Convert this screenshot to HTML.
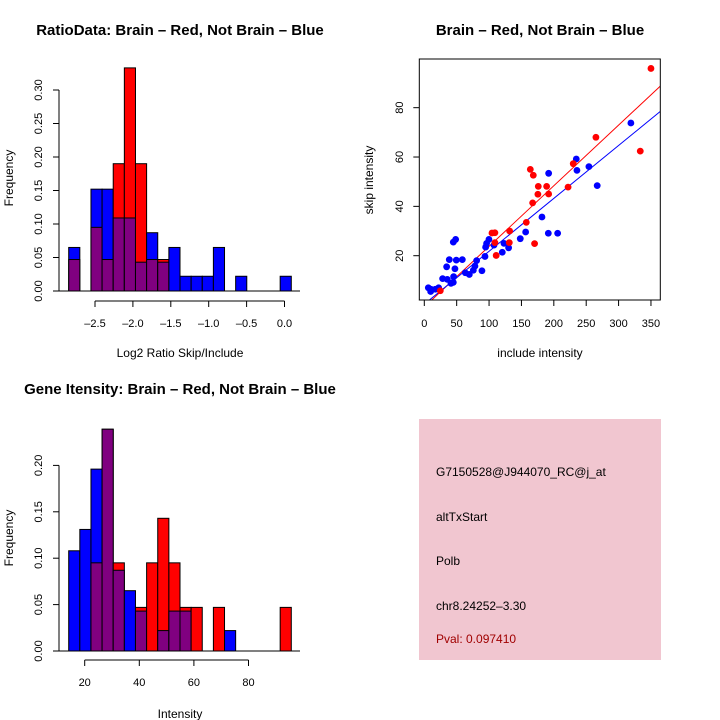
<!DOCTYPE html>
<html><head><meta charset="utf-8"><style>
body{margin:0;background:#fff}
svg{display:block;font-family:"Liberation Sans",Arial,sans-serif}
</style></head><body>
<svg id="s" width="720" height="720" xmlns="http://www.w3.org/2000/svg">
<text x="180" y="35" font-size="15" font-weight="bold" text-anchor="middle">RatioData: Brain – Red, Not Brain – Blue</text>
<text x="540" y="35" font-size="15" font-weight="bold" text-anchor="middle">Brain – Red, Not Brain – Blue</text>
<text x="180" y="394" font-size="15" font-weight="bold" text-anchor="middle">Gene Itensity: Brain – Red, Not Brain – Blue</text>
<text x="180" y="357" font-size="12" text-anchor="middle">Log2 Ratio Skip/Include</text>
<text x="180" y="718" font-size="12" text-anchor="middle">Intensity</text>
<text transform="translate(13,178) rotate(-90)" font-size="12" text-anchor="middle">Frequency</text>
<text transform="translate(13,538) rotate(-90)" font-size="12" text-anchor="middle">Frequency</text>
<text x="540" y="357" font-size="12" text-anchor="middle">include intensity</text>
<text transform="translate(373,180) rotate(-90)" font-size="12" text-anchor="middle">skip intensity</text>
<g>
<rect x="419" y="419" width="242" height="241" fill="#f1c6d0"/>
<text x="436" y="476" font-size="12">G7150528@J944070_RC@j_at</text>
<text x="436" y="521" font-size="12">altTxStart</text>
<text x="436" y="565" font-size="12">Polb</text>
<text x="436" y="610" font-size="12">chr8.24252–3.30</text>
<text x="436" y="643" font-size="12" fill="#a00000">Pval: 0.097410</text>
</g>
</svg>
<script>
// ratio histogram data
const ratioRed=[0.047,0,0.095,0.047,0.19,0.333,0.19,0.047,0.047,0,0,0,0,0,0,0,0,0,0,0];
const ratioBlue=[0.065,0,0.152,0.152,0.109,0.109,0.043,0.087,0.043,0.065,0.022,0.022,0.022,0.065,0,0.022,0,0,0,0.022];
const ratioXTicks=[-2.5,-2.0,-1.5,-1.0,-0.5,0.0];
const ratioYTicks=[0,0.05,0.10,0.15,0.20,0.25,0.30];
// intensity histogram data
const intRed=[0,0,0.095,0.239,0.095,0,0.047,0.095,0.143,0.095,0.047,0.047,0,0.047,0,0,0,0,0,0.047];
const intBlue=[0.108,0.131,0.196,0.239,0.087,0.065,0.043,0,0.022,0.043,0.043,0,0,0,0.022,0,0,0,0,0];
const intXTicks=[20,40,60,80];
const intYTicks=[0,0.05,0.10,0.15,0.20];
// scatter data
const redX=[350,333.5,265,230,222,163.7,168.3,176,175.4,188.9,192,167.3,157.5,170.3,131.8,131.2,104.5,109,109,111,24.7];
const redY=[95.9,62.4,68,57.3,47.8,55,52.6,48.1,44.9,48.1,45,41.4,33.5,24.9,30,25.3,29.2,29.3,25.3,20.1,5.8];
const blueX=[319,234.7,235.7,254.2,267,192,181.7,156.5,191.5,205.9,148.2,130.2,123,120.4,107.6,99.8,96.2,94.7,93.7,89,80.8,78.2,75.7,69.5,63.3,58.7,49.4,48.4,44.8,47.3,45.3,44.8,41.2,38.6,34.5,35.5,28.3,22.1,17,10.3,6.2,9.8];
const blueY=[73.8,59.2,54.6,56.1,48.4,53.4,35.7,29.6,29.1,29.1,26.9,23.2,25,21.4,24.3,26.6,25,23.5,19.7,13.9,18,15.8,14.1,12.4,13.1,18.4,18.2,26.6,25.5,14.7,11.5,9.2,8.8,18.4,15.5,10.4,10.7,7,6.4,6.4,7,5.5];
const fitRed=[-0.78,0.2457];
const fitBlue=[0.35,0.2144];
const scXTicks=[0,50,100,150,200,250,300,350];
const scYTicks=[20,40,60,80];

const svg=document.getElementById('s');
const NS='http://www.w3.org/2000/svg';
function mk(tag,attrs,parent){const e=document.createElementNS(NS,tag);for(const k in attrs)e.setAttribute(k,attrs[k]);(parent||svg).appendChild(e);return e;}

function hist(red,blue,xTicks,yTicks,base,yPer,xTickPx0,xTickVal0,xPxPer,axisY,decimals,name){
  const g=mk('g',{});
  
  
  const x0=68.7,bw=11.13;
  const Y=v=>base-v*yPer;
  const XT=v=>xTickPx0+(v-xTickVal0)*xPxPer;
  for(let i=0;i<red.length;i++){
    const r=red[i],b=blue[i];
    const x=x0+i*bw;
    const hi=Math.max(r,b),lo=Math.min(r,b);
    if(hi>0){
      const c=r>=b?'#ff0000':'#0000ff';
      const e=mk('rect',{x:x,y:Y(hi),width:bw,height:base-Y(hi),fill:c,stroke:'#000','stroke-width':1},g);
      
      
    }
    if(lo>0){
      const e=mk('rect',{x:x,y:Y(lo),width:bw,height:base-Y(lo),fill:'#800080',stroke:'#000','stroke-width':1},g);
      
      
    }
  }
  mk('line',{x1:59,x2:300,y1:base,y2:base,stroke:'#000'},g);
  mk('line',{x1:59,x2:59,y1:Y(yTicks[0]),y2:Y(yTicks[yTicks.length-1]),stroke:'#000'},g);
  yTicks.forEach(t=>{
    mk('line',{x1:53,x2:59,y1:Y(t),y2:Y(t),stroke:'#000'},g);
    const tx=mk('text',{transform:`translate(42,${Y(t)}) rotate(-90)`,'font-size':11,'text-anchor':'middle'},g);
    tx.textContent=t.toFixed(2);
    
    
  });
  mk('line',{x1:XT(xTicks[0]),x2:XT(xTicks[xTicks.length-1]),y1:axisY,y2:axisY,stroke:'#000'},g);
  xTicks.forEach(t=>{
    mk('line',{x1:XT(t),x2:XT(t),y1:axisY,y2:axisY+6,stroke:'#000'},g);
    const tx=mk('text',{x:XT(t),y:axisY+26,'font-size':11,'text-anchor':'middle'},g);
    tx.textContent=t.toFixed(decimals).replace('-','–');
    
    
  });
}
hist(ratioRed,ratioBlue,ratioXTicks,ratioYTicks,291,670,95,-2.5,75.8,301,1,'ratio-histogram');
hist(intRed,intBlue,intXTicks,intYTicks,651,928,84.7,20,2.73,660,0,'intensity-histogram');

// scatter
(function(){
  const g=mk('g',{});
  
  
  const X=v=>424.3+v*0.6476, Y=v=>255.7-(v-20)*2.467;
  const L=419.3,R=660.3,T=59,B=300;
  mk('defs',{},g).innerHTML='<clipPath id="cp"><rect x="419.3" y="59" width="241" height="241"/></clipPath>';
  [[fitRed,'#ff0000','fit-line-red'],[fitBlue,'#0000ff','fit-line-blue']].forEach(([f,c,n])=>{
    const xa=-10,xb=400;
    const l=mk('line',{x1:X(xa),y1:Y(f[0]+f[1]*xa),x2:X(xb),y2:Y(f[0]+f[1]*xb),stroke:c,'stroke-width':1,'clip-path':'url(#cp)'},g);
    
    
  });
  blueX.forEach((x,i)=>{const c=mk('circle',{cx:X(x),cy:Y(blueY[i]),r:3.4,fill:'#0000ff'},g);
    
    });
  redX.forEach((x,i)=>{const c=mk('circle',{cx:X(x),cy:Y(redY[i]),r:3.4,fill:'#ff0000'},g);
    
    });
  mk('rect',{x:L,y:T,width:R-L,height:B-T,fill:'none',stroke:'#000'},g);
  scXTicks.forEach(t=>{
    mk('line',{x1:X(t),x2:X(t),y1:B,y2:B+6,stroke:'#000'},g);
    const tx=mk('text',{x:X(t),y:B+27,'font-size':11,'text-anchor':'middle'},g);
    tx.textContent=t;
    
    
  });
  scYTicks.forEach(t=>{
    mk('line',{x1:L-6,x2:L,y1:Y(t),y2:Y(t),stroke:'#000'},g);
    const tx=mk('text',{transform:`translate(403,${Y(t)}) rotate(-90)`,'font-size':11,'text-anchor':'middle'},g);
    tx.textContent=t;
    
    
  });
})();
</script>
</body></html>
